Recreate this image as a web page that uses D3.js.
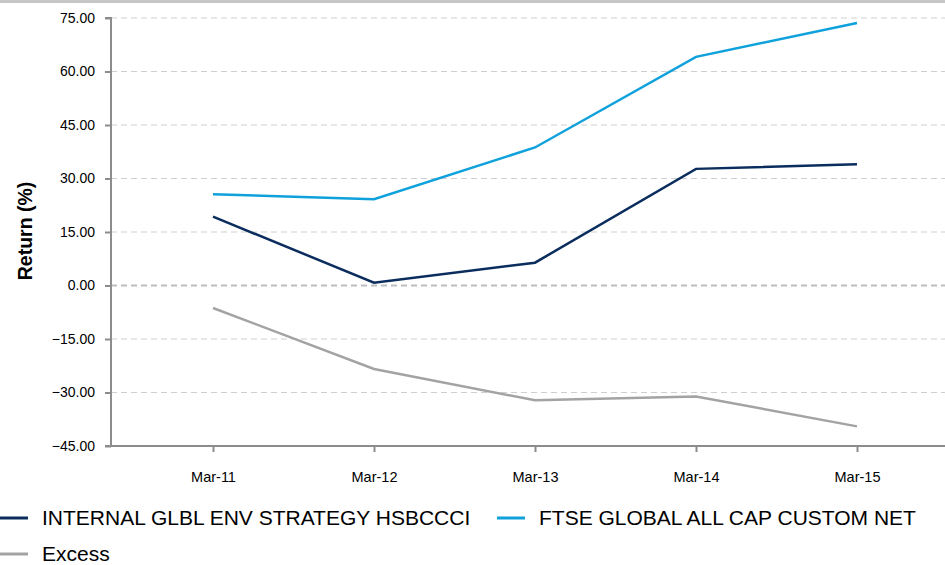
<!DOCTYPE html>
<html lang="en">
<head>
<meta charset="UTF-8">
<title>Return (%)</title>
<style>
  body { margin: 0; padding: 0; background: #fff; }
  svg { display: block; font-family: "Liberation Sans", Arial, sans-serif; }
  .grid line { stroke: #cfcfcf; stroke-dasharray: 6 4; }
  .axis path, .axis line { stroke: #8c8c8c; }
  .axis text { fill: #000; }
</style>
</head>
<body>
<div id="chart"></div>
<script src="https://cdn.jsdelivr.net/npm/d3@7"></script>
<script>
  // data
  const periods = ['Mar-11', 'Mar-12', 'Mar-13', 'Mar-14', 'Mar-15'];
  const hsbc   = [19.3, 0.8, 6.4, 32.7, 34.0];
  const ftse   = [25.6, 24.2, 38.7, 64.1, 73.6];
  const excess = [-6.3, -23.4, -32.2, -31.1, -39.5];
  const yTicks = [75, 60, 45, 30, 15, 0, -15, -30, -45];
  const seriesNames = ['INTERNAL GLBL ENV STRATEGY HSBCCCI', 'FTSE GLOBAL ALL CAP CUSTOM NET', 'Excess'];
  const colors = ['#0a2d5e', '#0fa1dc', '#a3a3a3'];

  const w = 945, h = 565;
  const plotLeft = 111, plotRight = 945, plotTop = 18, plotBottom = 446;

  const svg = d3.select('#chart').append('svg')
    .attr('width', w).attr('height', h);

  // cropped header strip
  svg.append('rect').attr('x', 0).attr('y', 0).attr('width', w).attr('height', 3).attr('fill', '#c6c6c6');

  const x = d3.scalePoint().domain(periods).range([213, 857]);
  const y = d3.scaleLinear().domain([-45, 75]).range([plotBottom, plotTop]);

  // gridlines
  svg.append('g').attr('class', 'grid')
    .selectAll('line').data(yTicks).enter().append('line')
    .attr('x1', plotLeft).attr('x2', plotRight)
    .attr('y1', d => y(d)).attr('y2', d => y(d))
    .attr('stroke-width', d => d === 0 ? 2 : 1)
    .style('stroke', d => d === 0 ? '#bdbdbd' : null);

  // y axis
  const yAxis = svg.append('g').attr('class', 'axis')
    .attr('transform', 'translate(' + plotLeft + ',0)')
    .call(d3.axisLeft(y).tickValues(yTicks).tickFormat(d3.format('.2f')).tickSize(6).tickPadding(10));
  yAxis.select('.domain').attr('stroke-width', 2).attr('d', 'M-6,' + plotTop + 'H0V' + plotBottom);
  yAxis.selectAll('.tick line').attr('stroke-width', 2);
  yAxis.selectAll('.tick text').attr('font-size', 14);

  // x axis
  const xAxis = svg.append('g').attr('class', 'axis')
    .attr('transform', 'translate(0,' + plotBottom + ')')
    .call(d3.axisBottom(x).tickSize(6).tickPadding(20));
  xAxis.select('.domain').attr('stroke-width', 2).attr('d', 'M' + (plotLeft - 6) + ',0H' + plotRight);
  xAxis.selectAll('.tick line').attr('stroke-width', 2);
  xAxis.selectAll('.tick text').attr('font-size', 14.5);

  svg.append('text')
    .attr('transform', 'translate(32,' + 231 + ') rotate(-90)')
    .attr('text-anchor', 'middle')
    .attr('font-size', 19.5).attr('font-weight', 'bold')
    .text('Return (%)');

  // lines
  const line = d3.line().x((d, i) => x(periods[i])).y(d => y(d));
  [hsbc, ftse, excess].forEach((s, i) => {
    svg.append('path').datum(s)
      .attr('fill', 'none')
      .attr('stroke', colors[i])
      .attr('stroke-width', 2.5)
      .attr('d', line);
  });

  // legend
  const legendPos = [[0, 518], [497, 518], [0, 554]];
  seriesNames.forEach((name, i) => {
    const g = svg.append('g').attr('transform', 'translate(' + legendPos[i][0] + ',' + legendPos[i][1] + ')');
    g.append('line').attr('x1', 0).attr('x2', 28).attr('y1', 0).attr('y2', 0)
      .attr('stroke', colors[i]).attr('stroke-width', 3);
    g.append('text').attr('x', 42).attr('y', 7)
      .attr('font-size', 21).attr('fill', '#000')
      .text(name);
  });
</script>
</body>
</html>
